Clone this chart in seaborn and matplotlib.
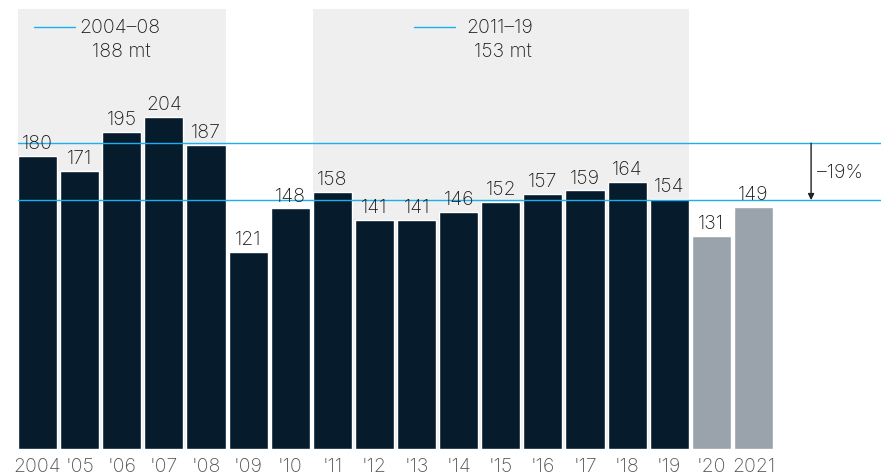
import pandas as pd
import matplotlib.pyplot as plt
import seaborn as sns

anos = ['2004', "'05", "'06", "'07", "'08", "'09", "'10", "'11", "'12", "'13",
        "'14", "'15", "'16", "'17", "'18", "'19", "'20", '2021']
valores = [180, 171, 195, 204, 187, 121, 148, 158, 141, 141,
           146, 152, 157, 159, 164, 154, 131, 149]
tipo = ['real'] * 16 + ['proj'] * 2

media_1 = 188
media_2 = 153
periodo_1 = '2004–08'
periodo_2 = '2011–19'
queda = '–19%'

df = pd.DataFrame({'ano': anos, 'valor': valores, 'tipo': tipo})

sns.set_theme(style='white')
plt.rcParams['font.family'] = ['Inter', 'DejaVu Sans']
plt.rcParams['font.weight'] = 'light'

fig = plt.figure(figsize=(8.81, 4.77), dpi=100)
ax = fig.add_axes([18 / 881, 27 / 477, 863 / 881, 440 / 477])

# fundos cinza dos periodos
ax.axvspan(-0.465, 4.465, color='#efefef', zorder=0, lw=0)
ax.axvspan(6.535, 15.465, color='#efefef', zorder=0, lw=0)

sns.barplot(data=df, x='ano', y='valor', hue='tipo', width=0.93,
            palette={'real': '#061c2c', 'proj': '#9aa3ab'},
            legend=False, saturation=1, ax=ax, zorder=2)

fs = 14
for i, v in enumerate(valores):
    ax.text(i, v + 2.3, str(v), ha='center', va='bottom', fontsize=fs,
            color='#1a1a1a', zorder=4)

# linhas de media
ax.axhline(media_1, color='#1ab0f0', lw=1, zorder=3)
ax.axhline(media_2, color='#1ab0f0', lw=1, zorder=3)

ax.plot([-0.085, 0.889], [259.4, 259.4], color='#1ab0f0', lw=1)
ax.text(1.0, 259.4, periodo_1, ha='left', va='center', fontsize=fs, color='#1a1a1a')
ax.text(2.0, 244.6, f'{media_1} mt', ha='center', va='center', fontsize=fs, color='#1a1a1a')

ax.plot([8.94, 9.915], [259.4, 259.4], color='#1ab0f0', lw=1)
ax.text(10.18, 259.4, periodo_2, ha='left', va='center', fontsize=fs, color='#1a1a1a')
ax.text(11.05, 244.6, f'{media_2} mt', ha='center', va='center', fontsize=fs, color='#1a1a1a')

ax.annotate('', xy=(18.37, media_2), xytext=(18.37, media_1),
            arrowprops=dict(arrowstyle='-|>', color='#222222', lw=1,
                            mutation_scale=9, shrinkA=0, shrinkB=0))
ax.text(18.51, 170, queda, ha='left', va='center', fontsize=fs, color='#1a1a1a')

ax.set_xlim(-0.465, 20.03)
ax.set_ylim(0, 270.5)
ax.set_xlabel('')
ax.set_ylabel('')
ax.set_yticks([])
ax.tick_params(axis='x', length=0, pad=6, labelsize=fs, labelcolor='#555555')
sns.despine(left=True, bottom=True)

fig.savefig('out.png', dpi=100)
